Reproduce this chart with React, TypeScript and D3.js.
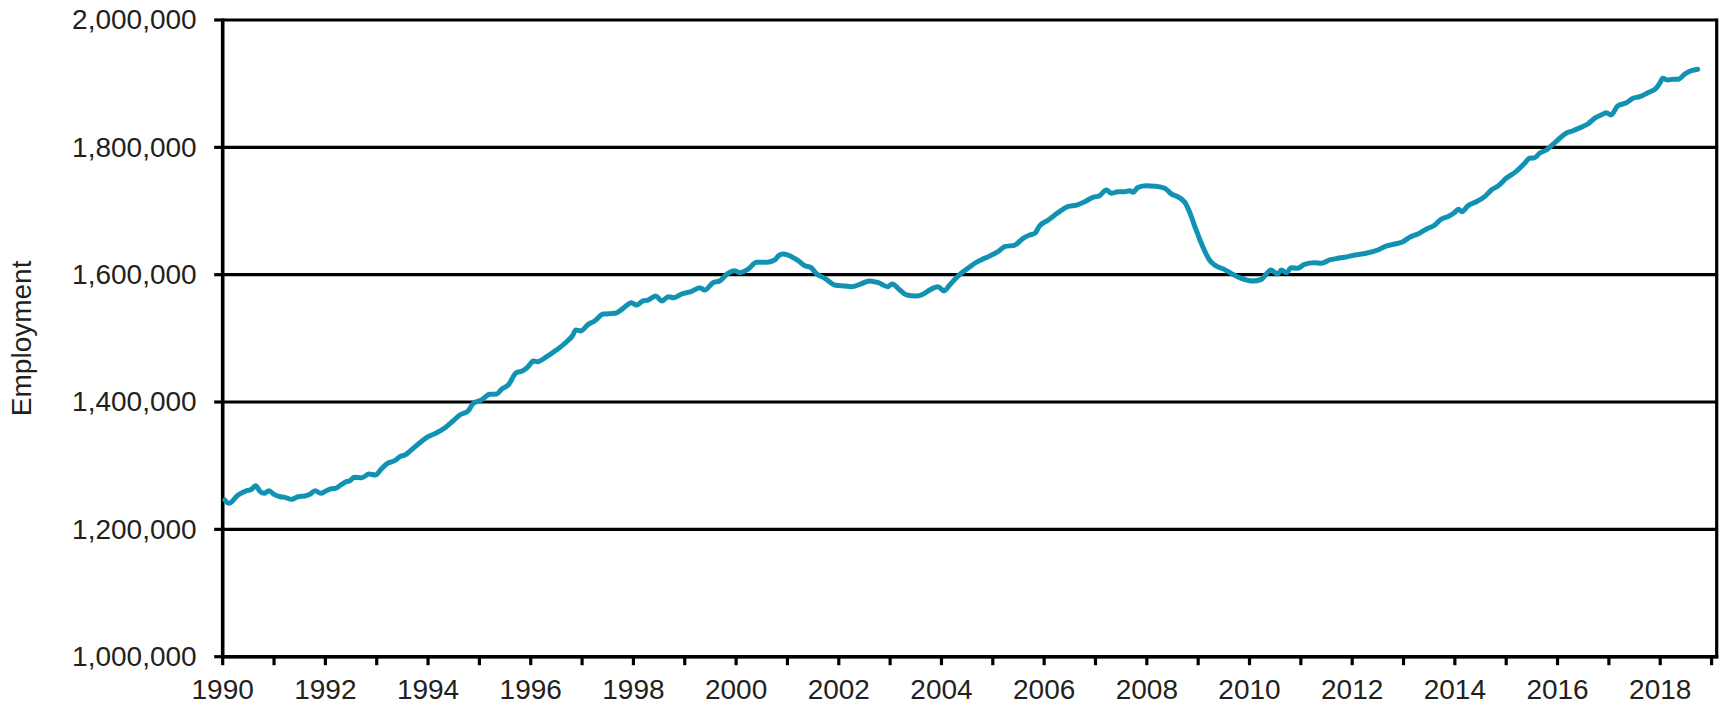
import React from "react";
import * as d3 from "d3";

const dates: number[] = [
  1990.04, 1990.12, 1990.30, 1990.47, 1990.56, 1990.64, 1990.73, 1990.81, 1990.90, 1991.00,
  1991.12, 1991.21, 1991.34, 1991.47, 1991.60, 1991.70, 1991.80, 1991.91, 1992.02, 1992.12,
  1992.20, 1992.30, 1992.41, 1992.48, 1992.56, 1992.71, 1992.85, 1992.97, 1993.10, 1993.21,
  1993.35, 1993.45, 1993.55, 1993.71, 1993.84, 1994.00, 1994.17, 1994.33, 1994.49, 1994.62,
  1994.78, 1994.88, 1995.04, 1995.20, 1995.34, 1995.43, 1995.56, 1995.72, 1995.85, 1995.95,
  1996.05, 1996.13, 1996.31, 1996.50, 1996.70, 1996.81, 1996.88, 1996.97, 1997.12, 1997.25,
  1997.41, 1997.64, 1997.80, 1997.96, 1998.06, 1998.19, 1998.29, 1998.43, 1998.56, 1998.68,
  1998.79, 1998.94, 1999.12, 1999.29, 1999.39, 1999.55, 1999.68, 1999.84, 1999.97, 2000.07,
  2000.23, 2000.40, 2000.59, 2000.75, 2000.83, 2000.92, 2001.08, 2001.21, 2001.34, 2001.45,
  2001.57, 2001.73, 2001.92, 2002.12, 2002.25, 2002.41, 2002.60, 2002.77, 2002.96, 2003.04,
  2003.19, 2003.32, 2003.51, 2003.64, 2003.77, 2003.93, 2004.05, 2004.16, 2004.29, 2004.42,
  2004.55, 2004.65, 2004.84, 2005.10, 2005.23, 2005.43, 2005.59, 2005.72, 2005.82, 2005.91,
  2006.08, 2006.27, 2006.46, 2006.63, 2006.79, 2006.95, 2007.08, 2007.21, 2007.31, 2007.44,
  2007.57, 2007.67, 2007.73, 2007.83, 2007.99, 2008.15, 2008.35, 2008.48, 2008.57, 2008.74,
  2008.83, 2008.96, 2009.09, 2009.22, 2009.32, 2009.51, 2009.64, 2009.84, 2010.07, 2010.23,
  2010.42, 2010.55, 2010.62, 2010.72, 2010.81, 2010.94, 2011.07, 2011.27, 2011.40, 2011.56,
  2011.72, 2011.85, 2012.05, 2012.27, 2012.50, 2012.66, 2012.83, 2012.99, 2013.12, 2013.28,
  2013.44, 2013.61, 2013.73, 2013.86, 2013.99, 2014.07, 2014.14, 2014.25, 2014.42, 2014.58,
  2014.71, 2014.84, 2015.00, 2015.19, 2015.36, 2015.45, 2015.55, 2015.65, 2015.78, 2015.97,
  2016.14, 2016.30, 2016.46, 2016.59, 2016.72, 2016.85, 2016.95, 2017.04, 2017.17, 2017.34,
  2017.47, 2017.60, 2017.76, 2017.92, 2017.99, 2018.05, 2018.15, 2018.25, 2018.35, 2018.48,
  2018.61, 2018.73,
];

const employment: number[] = [
  1246100, 1240900, 1254000, 1260700, 1262900, 1268600, 1259200, 1256600, 1260700, 1255000,
  1251300, 1250300, 1247200, 1251300, 1252400, 1255000, 1260700, 1256600, 1260700, 1263900,
  1264400, 1269700, 1274900, 1276400, 1281700, 1281100, 1286900, 1285400, 1295900, 1303700,
  1307800, 1314100, 1316800, 1327300, 1336100, 1345500, 1351800, 1359600, 1370600, 1379600,
  1385900, 1397900, 1403200, 1412100, 1412600, 1420000, 1426700, 1446000, 1449200, 1455500,
  1464400, 1463300, 1471200, 1481700, 1494700, 1503700, 1513100, 1511600, 1522000, 1527700,
  1538200, 1539300, 1547200, 1556000, 1552400, 1559100, 1560200, 1566500, 1558700, 1565400,
  1563800, 1569700, 1573300, 1579600, 1575900, 1587400, 1590100, 1602100, 1606300, 1603100,
  1608500, 1619400, 1619400, 1623000, 1630000, 1632500, 1628300, 1622000, 1614100, 1611600,
  1601100, 1594300, 1583800, 1582200, 1581100, 1584900, 1590100, 1587400, 1581100, 1585400,
  1575900, 1568100, 1566500, 1569200, 1575900, 1581100, 1574400, 1583800, 1595300, 1604700,
  1612000, 1617900, 1625700, 1636100, 1643900, 1646600, 1657100, 1662300, 1665000, 1676500,
  1685900, 1697400, 1706800, 1709400, 1714600, 1721500, 1724100, 1733000, 1727800, 1730400,
  1730400, 1731900, 1729300, 1737200, 1739800, 1739000, 1735700, 1726700, 1723600, 1713700,
  1699000, 1670200, 1644000, 1623100, 1615200, 1608400, 1602100, 1594300, 1590100, 1592700,
  1607300, 1601100, 1607300, 1603100, 1611000, 1610000, 1616300, 1618800, 1617900, 1623100,
  1625700, 1627300, 1630900, 1633600, 1638800, 1645000, 1648200, 1651800, 1658700, 1663900,
  1671300, 1678000, 1687000, 1691100, 1697400, 1702700, 1698900, 1707900, 1714600, 1722500,
  1733000, 1739300, 1751400, 1761800, 1774900, 1782800, 1783500, 1790600, 1795800, 1808900,
  1820900, 1826100, 1831500, 1836700, 1845600, 1850800, 1854400, 1850800, 1864900, 1870100,
  1877000, 1879500, 1885800, 1892700, 1900600, 1908400, 1905800, 1906900, 1906900, 1915200,
  1920400, 1922600,
];

const yTicks: number[] = [1000000, 1200000, 1400000, 1600000, 1800000, 2000000];
const xTickYears: number[] = d3.range(1990, 2020);
const xLabelYears: number[] = d3.range(1990, 2019, 2);
const yTitle = "Employment";

const W = 1723;
const H = 706;
const LEFT = 222.7;
const RIGHT = 1716.7;
const TOP = 20;
const BOTTOM = 656.7;

export default function App() {
  const x = d3.scaleLinear().domain([1990, 2019.1]).range([LEFT, RIGHT]);
  const y = d3.scaleLinear().domain([1000000, 2000000]).range([BOTTOM, TOP]);
  const fmt = d3.format(",");
  const pts = dates.map((d, i) => [d, employment[i]] as [number, number]);
  const line = d3
    .line<[number, number]>()
    .x((d) => x(d[0]))
    .y((d) => y(d[1]))
    .curve(d3.curveMonotoneX);

  const font = "'Liberation Sans', Arial, sans-serif";
  const textColor = "#231F20";

  return (
    <svg
      width={W}
      height={H}
      style={{ position: "absolute", left: 0, top: 0, background: "#fff" }}
      fontFamily={font}
    >
      <rect x={0} y={0} width={W} height={H} fill="#fff" />
      {yTicks.map((t) => (
        <line key={"g" + t} x1={LEFT} x2={RIGHT} y1={y(t)} y2={y(t)} stroke="#000" strokeWidth={3.2} />
      ))}
      <line x1={RIGHT} x2={RIGHT} y1={TOP - 1.6} y2={BOTTOM + 1.6} stroke="#000" strokeWidth={3.2} />
      {yTicks.map((t) => (
        <line key={"yt" + t} x1={LEFT - 8.5} x2={LEFT} y1={y(t)} y2={y(t)} stroke="#000" strokeWidth={3.2} />
      ))}
      {xTickYears.map((t) => (
        <line key={"xt" + t} x1={x(t)} x2={x(t)} y1={BOTTOM} y2={BOTTOM + 8.5} stroke="#000" strokeWidth={3.2} />
      ))}
      <line x1={LEFT} x2={LEFT} y1={TOP - 1.6} y2={BOTTOM + 1.6} stroke="#000" strokeWidth={3.6} />
      <line x1={LEFT - 1.6} x2={RIGHT + 1.6} y1={BOTTOM} y2={BOTTOM} stroke="#000" strokeWidth={3.6} />
      {yTicks.map((t) => (
        <text
          key={"yl" + t}
          x={196.7}
          y={y(t)}
          dy="0.33em"
          textAnchor="end"
          fontSize={28}
          fill={textColor}
        >
          {fmt(t)}
        </text>
      ))}
      {xLabelYears.map((t) => (
        <text key={"xl" + t} x={x(t)} y={699} textAnchor="middle" fontSize={28} fill={textColor}>
          {t}
        </text>
      ))}
      <text
        transform={`translate(31, ${(TOP + BOTTOM) / 2}) rotate(-90)`}
        textAnchor="middle"
        fontSize={28}
        fill={textColor}
      >
        {yTitle}
      </text>
      <path
        d={line(pts) || ""}
        fill="none"
        stroke="#1192B3"
        strokeWidth={5}
        strokeLinejoin="round"
        strokeLinecap="round"
      />
    </svg>
  );
}
